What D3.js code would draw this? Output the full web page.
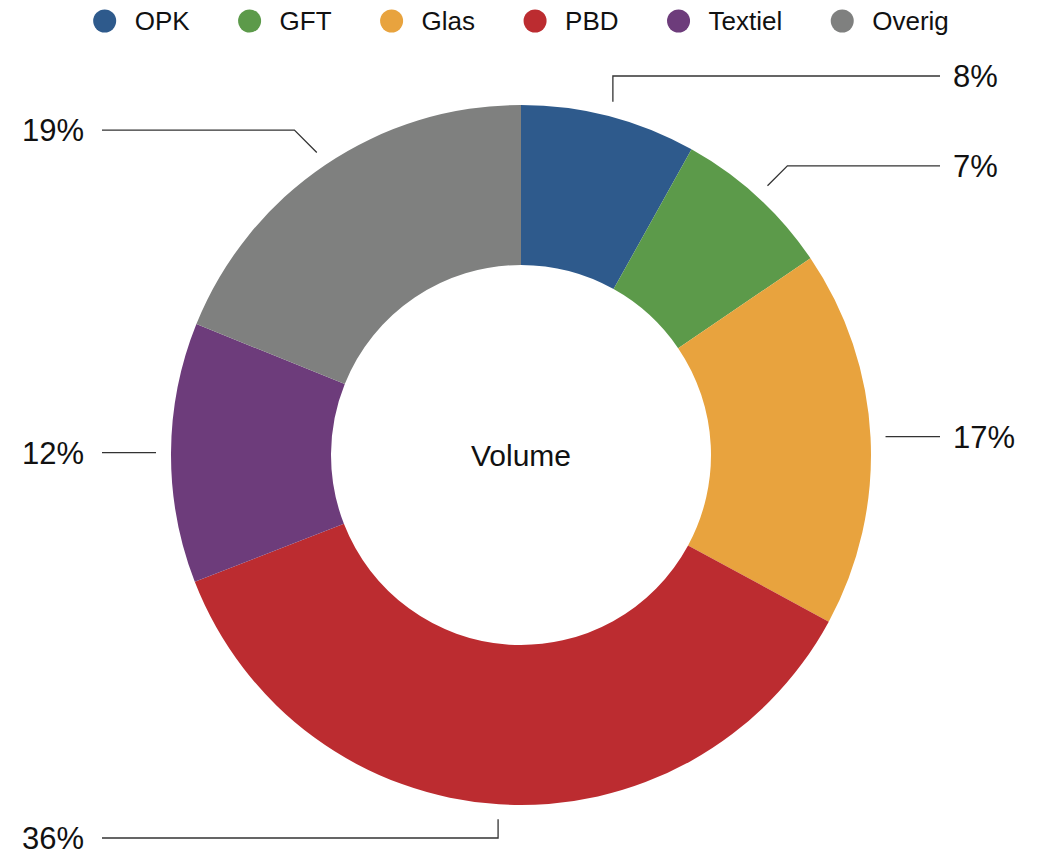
<!DOCTYPE html>
<html>
<head>
<meta charset="utf-8">
<script src="https://cdn.jsdelivr.net/npm/d3@7"></script>
<style>
  body { margin: 0; background: #fff; }
  svg { display: block; font-family: "Helvetica Neue", Helvetica, "Liberation Sans", Arial, sans-serif; }
</style>
</head>
<body>
<svg id="chart" width="1042" height="861"></svg>
<script>
const categories = ["OPK", "GFT", "Glas", "PBD", "Textiel", "Overig"];
const values = [8.1, 7.4, 17.4, 36.2, 12.0, 18.9];
const labels = ["8%", "7%", "17%", "36%", "12%", "19%"];
const colors = ["#2e5a8c", "#5c9a4a", "#e8a33e", "#bc2c30", "#6d3c7b", "#7f807f"];
const centerLabel = "Volume";

const svg = d3.select("#chart");
const cx = 521, cy = 455;
const outerR = 350, innerR = 190;

const color = d3.scaleOrdinal().domain(categories).range(colors);

const pie = d3.pie().sort(null).value(d => d.value);
const arcs = pie(categories.map((c, i) => ({ name: c, value: values[i], label: labels[i] })));
const arc = d3.arc().innerRadius(innerR).outerRadius(outerR);

const g = svg.append("g").attr("transform", `translate(${cx},${cy})`);

g.selectAll("path.slice")
  .data(arcs)
  .join("path")
  .attr("class", "slice")
  .attr("fill", d => color(d.data.name))
  .attr("d", arc);

g.append("text")
  .attr("text-anchor", "middle")
  .attr("dy", "0.35em")
  .attr("font-size", 30)
  .attr("fill", "#111")
  .text(centerLabel);

// leader lines + labels
const r1 = 365, r2 = 392;
function leader(d) {
  const a = (d.startAngle + d.endAngle) / 2;
  const s = [r1 * Math.sin(a), -r1 * Math.cos(a)];
  const right = Math.sin(a) >= 0;
  const fromVert = Math.atan2(Math.abs(Math.sin(a)), Math.abs(Math.cos(a))) * 180 / Math.PI;
  let ly = Math.max(76 - cy, Math.min(838 - cy, -r2 * Math.cos(a)));
  let e;
  if (fromVert > 70) { ly = s[1]; e = [s[0], ly]; }
  else if (fromVert < 20) { e = [s[0], ly]; }
  else { const dy = Math.abs(ly - s[1]); e = [s[0] + (right ? dy : -dy), ly]; }
  const endX = right ? 940 - cx : 102 - cx;
  return { s, e, end: [endX, ly], right, ly };
}
const lead = arcs.map(leader);

g.selectAll("polyline.lead")
  .data(lead)
  .join("polyline")
  .attr("class", "lead")
  .attr("fill", "none")
  .attr("stroke", "#333")
  .attr("stroke-width", 1.3)
  .attr("points", d => [d.s, d.e, d.end].map(p => p.join(",")).join(" "));

g.selectAll("text.pct")
  .data(arcs)
  .join("text")
  .attr("class", "pct")
  .attr("x", (d, i) => lead[i].right ? 953 - cx : 84 - cx)
  .attr("y", (d, i) => lead[i].ly)
  .attr("dy", "0.35em")
  .attr("text-anchor", (d, i) => lead[i].right ? "start" : "end")
  .attr("font-size", 31)
  .attr("fill", "#111")
  .text(d => d.data.label);

// legend
const legend = svg.append("g");
const items = legend.selectAll("g.item")
  .data(categories)
  .join("g")
  .attr("class", "item");
items.append("circle")
  .attr("r", 11.5)
  .attr("fill", d => color(d));
items.append("text")
  .attr("x", 30)
  .attr("dy", "0.35em")
  .attr("font-size", 26)
  .attr("fill", "#111")
  .text(d => d);

let x = 0;
items.each(function() {
  const w = d3.select(this).select("text").node().getComputedTextLength();
  d3.select(this).attr("transform", `translate(${x},0)`);
  x += 30 + w + 60;
});
const total = x - 60 + 11.5;
legend.attr("transform", `translate(${cx - total / 2 + 11.5},21)`);
</script>
</body>
</html>
